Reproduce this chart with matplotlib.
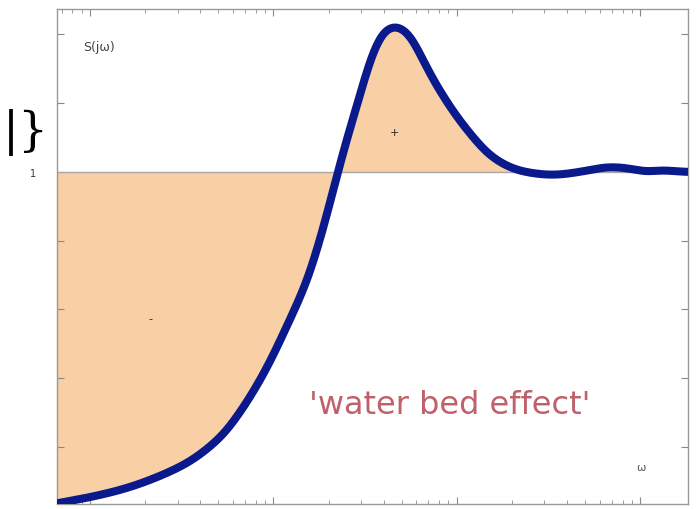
import numpy as np
import matplotlib
matplotlib.use("Agg")
import matplotlib.pyplot as plt
from matplotlib.ticker import LogLocator, NullFormatter, FixedLocator, FixedFormatter

# log10 of frequency and log10 of |S(jw)|
log_w = [-0.180, 0.000, 0.185, 0.365, 0.545, 0.638, 0.730, 0.817, 0.910, 0.997,
         1.090, 1.183, 1.253, 1.308, 1.351, 1.379, 1.455, 1.526, 1.597, 1.662,
         1.744, 1.815, 1.907, 2.000, 2.087, 2.169, 2.251, 2.343, 2.523, 2.670,
         2.834, 2.926, 3.035, 3.123, 3.232, 3.259]
log_S = [-4.82, -4.73, -4.61, -4.44, -4.21, -4.03, -3.81, -3.50, -3.11, -2.68,
         -2.14, -1.60, -1.00, -0.46, 0.000, 0.300, 0.950, 1.640, 2.070, 2.140,
         2.020, 1.616, 1.179, 0.801, 0.509, 0.262, 0.116, 0.015, -0.044, 0.000,
         0.073, 0.058, 0.000, 0.029, 0.000, 0.000]
y_ticks = [-4, -3, -2, -1, 0, 1, 2]
y_labels = ["", "", "", "", "1", "", ""]


def pchip(x, y, xs):
    x = np.asarray(x, float)
    y = np.asarray(y, float)
    h = np.diff(x)
    d = np.diff(y) / h
    n = len(x)
    m = np.zeros(n)
    for i in range(1, n - 1):
        if d[i - 1] * d[i] > 0:
            w1 = 2 * h[i] + h[i - 1]
            w2 = h[i] + 2 * h[i - 1]
            m[i] = (w1 + w2) / (w1 / d[i - 1] + w2 / d[i])
        else:
            m[i] = 0.0
    m[0] = d[0]
    m[-1] = d[-1]
    out = np.empty_like(xs)
    for k, xv in enumerate(xs):
        i = min(max(np.searchsorted(x, xv) - 1, 0), n - 2)
        t = (xv - x[i]) / h[i]
        h00 = 2 * t**3 - 3 * t**2 + 1
        h10 = t**3 - 2 * t**2 + t
        h01 = -2 * t**3 + 3 * t**2
        h11 = t**3 - t**2
        out[k] = h00 * y[i] + h10 * h[i] * m[i] + h01 * y[i + 1] + h11 * h[i] * m[i + 1]
    return out


def smooth(xs, ys, sigma):
    step = xs[1] - xs[0]
    r = int(4 * sigma / step)
    k = np.exp(-0.5 * (np.arange(-r, r + 1) * step / sigma) ** 2)
    k /= k.sum()
    sl0 = (ys[1] - ys[0])
    sl1 = (ys[-1] - ys[-2])
    left = ys[0] - sl0 * np.arange(r, 0, -1)
    right = ys[-1] + sl1 * np.arange(1, r + 1)
    padded = np.concatenate([left, ys, right])
    return np.convolve(padded, k, mode="valid")


lw_f = np.linspace(log_w[0], log_w[-1], 1200)
s_f = smooth(lw_f, pchip(log_w, log_S, lw_f), 0.045)
w_f = 10 ** lw_f

fig = plt.figure(figsize=(6.96, 5.10), dpi=100)
ax = fig.add_axes([57 / 696, 5 / 510, 631 / 696, 495 / 510])
ax.set_xscale("log")
ax.set_xlim(10 ** -0.18, 10 ** 3.26)
ax.set_ylim(-4.83, 2.37)

ax.fill_between(w_f, s_f, 0, color="#f9cfa6", linewidth=0, zorder=1)
ax.axhline(0, color="#a8a8a8", lw=1.0, zorder=2)
ax.plot(w_f, s_f, color="#0a1a8c", lw=5.8, solid_capstyle="round",
        solid_joinstyle="round", zorder=3)

ax.xaxis.set_major_locator(LogLocator(base=10, numticks=10))
ax.xaxis.set_minor_locator(LogLocator(base=10, subs=np.arange(2, 10), numticks=20))
ax.xaxis.set_major_formatter(NullFormatter())
ax.xaxis.set_minor_formatter(NullFormatter())
ax.yaxis.set_major_locator(FixedLocator(y_ticks))
ax.yaxis.set_major_formatter(FixedFormatter(y_labels))
ax.tick_params(axis="both", which="both", direction="in", top=True, right=True,
               color="#888888", labelcolor="#333333", labelsize=7)
ax.tick_params(axis="y", pad=15)
ax.tick_params(axis="both", which="major", length=5, width=0.8)
ax.tick_params(axis="both", which="minor", length=3, width=0.6)
for sp in ax.spines.values():
    sp.set_color("#999999")
    sp.set_linewidth(1.0)

ax.text(0.041, 0.925, "S(j\u03c9)", transform=ax.transAxes, fontsize=9,
        color="#444444", ha="left", va="center")
ax.text(0.925, 0.075, "\u03c9", transform=ax.transAxes, fontsize=8,
        color="#555555", ha="center", va="center")
ax.text(0.622, 0.2, "'water bed effect'", transform=ax.transAxes, fontsize=23,
        color="#c0606a", ha="center", va="center")
ax.text(10 ** ((150 - 90) / 183.5), -2.13, "-", fontsize=8, color="#222222",
        ha="center", va="center")
ax.text(10 ** ((395 - 90) / 183.5), 0.58, "+", fontsize=8, color="#222222",
        ha="center", va="center")

fig.text(26 / 696, 1 - 133 / 510, "|}", fontsize=34, color="black",
         ha="center", va="center", family="DejaVu Serif")

fig.savefig("out.png", dpi=100, facecolor="white")
